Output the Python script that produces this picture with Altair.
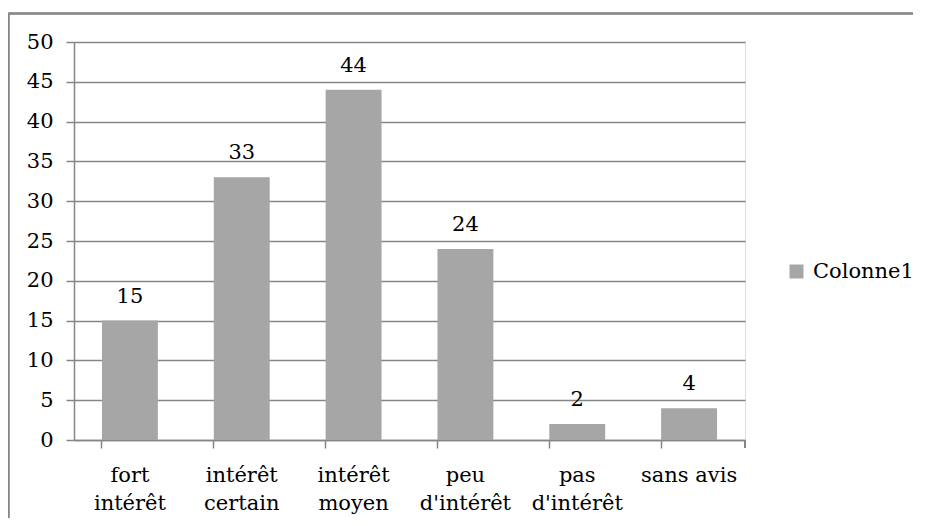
import altair as alt
import pandas as pd

categories = ["fort\nintérêt", "intérêt\ncertain", "intérêt\nmoyen", "peu\nd'intérêt", "pas\nd'intérêt", "sans avis"]
values = [15, 33, 44, 24, 2, 4]
series = ["Colonne1"] * len(categories)

df = pd.DataFrame({"cat": categories, "val": values, "series": series})

FONT = "DejaVu Serif"
FS = 21
GRID = "#868686"
BAR = "#A6A6A6"
W, H = 671, 398

xenc = alt.X("cat:N", sort=None, title=None,
             scale=alt.Scale(paddingInner=0.5, paddingOuter=0.25),
             axis=alt.Axis(labelAngle=0, labelExpr="split(datum.label, '\\n')",
                           labelFont=FONT, labelFontSize=FS, labelColor="black",
                           labelLineHeight=28, labelPadding=16, labelBaseline="top",
                           labelOverlap=False, labelBound=False,
                           tickSize=8, tickColor=GRID, tickWidth=1.5, bandPosition=0,
                           domainColor=GRID, domainWidth=1.5, grid=False))
yenc = alt.Y("val:Q", title=None,
             scale=alt.Scale(domain=[0, 50], nice=False),
             axis=alt.Axis(values=list(range(0, 51, 5)), labelFont=FONT, labelFontSize=FS,
                           labelColor="black", labelPadding=13, tickSize=8, tickColor=GRID,
                           labelOverlap=False, labelBound=False,
                           tickWidth=1.5, domainColor=GRID, domainWidth=1.5,
                           grid=True, gridColor=GRID, gridWidth=1.5))

base = alt.Chart(df)

bars = base.mark_bar(color=BAR).encode(
    x=xenc, y=yenc,
    color=alt.Color("series:N", title=None,
                    scale=alt.Scale(range=[BAR]),
                    legend=alt.Legend(orient="none", legendX=712, legendY=219,
                                      symbolType="square", symbolSize=196,
                                      symbolStrokeWidth=0, labelFont=FONT,
                                      labelFontSize=FS, labelColor="black",
                                      labelOffset=6, padding=0)),
)

labels = base.mark_text(font=FONT, fontSize=FS, color="black",
                        baseline="alphabetic", dy=-18).encode(
    x=xenc, y=yenc,
    text=alt.Text("val:Q"),
)

end_tick = base.mark_rule(color=GRID, strokeWidth=1.5).encode(
    x=alt.value(W), y=alt.value(H), y2=alt.value(H + 8))

frame_top = base.mark_rule(color=GRID, strokeWidth=1.5).encode(
    x=alt.value(-65.5), x2=alt.value(W + 200), y=alt.value(-28.5))
frame_left = base.mark_rule(color=GRID, strokeWidth=1.5).encode(
    x=alt.value(-65.5), y=alt.value(-28.5), y2=alt.value(H + 200))

chart = alt.layer(frame_top, frame_left, bars, labels, end_tick).properties(
    width=W, height=H,
    padding={"left": 66, "top": 34, "right": 168, "bottom": 78},
    autosize=alt.AutoSizeParams(type="none"),
).configure_view(stroke=None).configure(background="white")

chart.save("out.html", embed_options={"renderer": "svg", "actions": False})
